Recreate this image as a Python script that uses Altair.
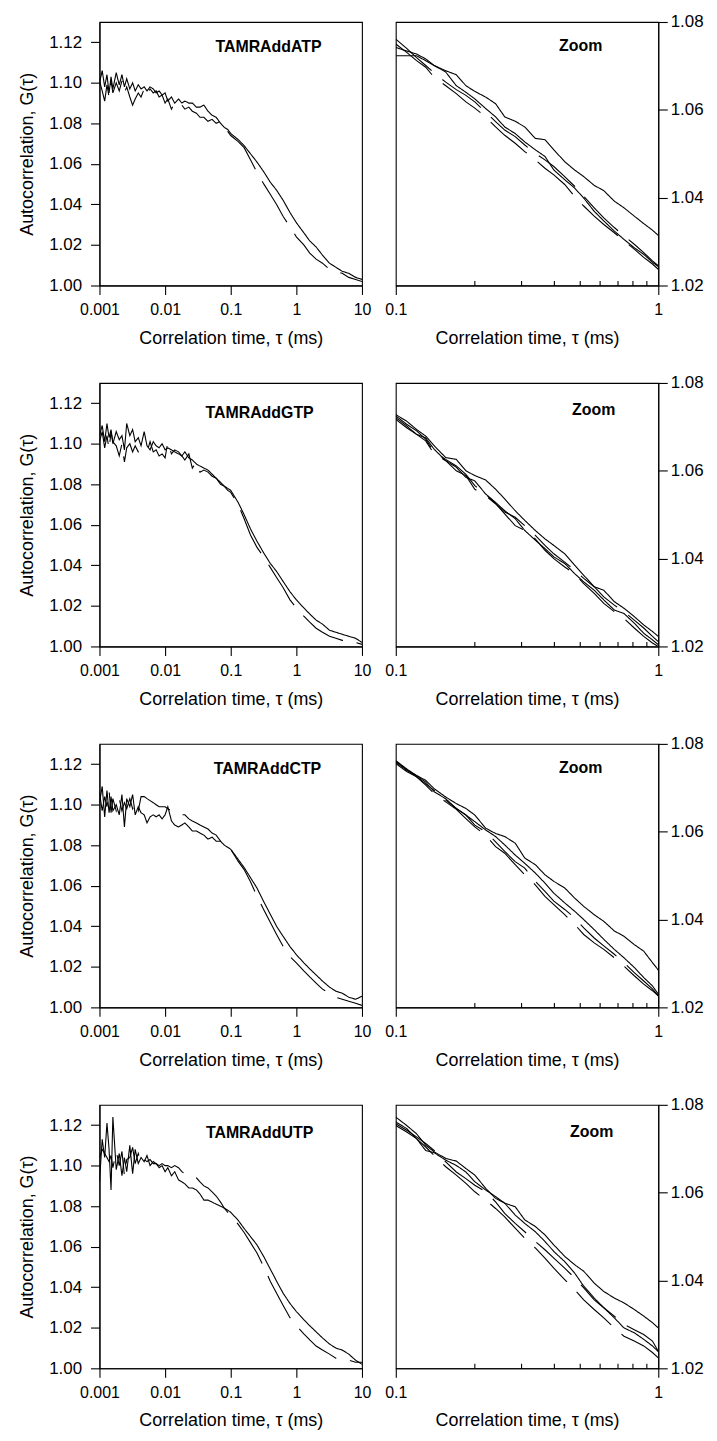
import altair as alt
import pandas as pd

# ---------------- data ----------------
TAU_LEFT = [0.0010, 0.0011, 0.0012, 0.0013, 0.0014, 0.0015, 0.0016, 0.0018,
            0.0020, 0.0022, 0.0024, 0.0026, 0.0029, 0.0032, 0.0035, 0.0039,
            0.0043, 0.0048, 0.0053, 0.0059, 0.0066, 0.0073, 0.0081, 0.0090,
            0.010, 0.011, 0.0125, 0.014, 0.016, 0.018, 0.020, 0.023,
            0.026, 0.030, 0.034, 0.039, 0.045, 0.052, 0.060, 0.070,
            0.080, 0.090, 0.10, 0.13, 0.16, 0.20, 0.25, 0.32,
            0.40, 0.50, 0.63, 0.80, 1.0, 1.3, 1.6, 2.0,
            2.5, 3.2, 4.0, 5.0, 6.3, 8.0, 10.0]

TAU_ZOOM = [0.100, 0.110, 0.120, 0.130, 0.140, 0.155, 0.170, 0.185, 0.200, 0.220,
            0.240, 0.260, 0.285, 0.310, 0.340, 0.370, 0.400, 0.440, 0.480, 0.520,
            0.570, 0.620, 0.680, 0.740, 0.810, 0.880, 0.950, 1.000]

ATP_SOLID = [1.100, 1.106, 1.098, 1.104, 1.095, 1.103, 1.097, 1.105,
             1.099, 1.104, 1.098, 1.102, 1.097, 1.100, 1.096, 1.099,
             1.097, 1.098, 1.096, 1.098, 1.097, 1.095, 1.096, 1.094,
             1.095, 1.091, 1.093, 1.090, 1.092, 1.090, 1.091, 1.090,
             1.090, 1.088, 1.088, 1.089, 1.086, 1.084, 1.083, 1.080,
             1.078, 1.077, 1.075, 1.072, 1.069, 1.065, 1.061, 1.056,
             1.051, 1.047, 1.042, 1.036, 1.031, 1.026, 1.022, 1.019,
             1.015, 1.011, 1.009, 1.007, 1.006, 1.004, 1.003]
ATP_DASHED = [1.101, 1.096, 1.091, 1.099, 1.093, 1.101, 1.095, 1.100,
              1.096, 1.101, 1.095, 1.098, 1.093, 1.089, 1.092, 1.095,
              1.093, 1.097, 1.094, 1.097, 1.095, 1.096, 1.093, 1.094,
              1.090, 1.092, 1.087, 1.090, 1.088, 1.089, 1.087, 1.088,
              1.086, 1.085, 1.083, 1.083, 1.081, 1.082, 1.080, 1.081,
              1.078, 1.076, 1.074, 1.071, 1.068, 1.062, 1.056, 1.050,
              1.045, 1.040, 1.034, 1.029, 1.024, 1.020, 1.016, 1.013,
              1.011, 1.008, 1.007, 1.006, 1.004, 1.003, 1.002]

GTP_SOLID = [1.104, 1.109, 1.101, 1.110, 1.103, 1.107, 1.100, 1.106,
             1.102, 1.104, 1.097, 1.110, 1.104, 1.107, 1.101, 1.103,
             1.099, 1.106, 1.099, 1.097, 1.101, 1.099, 1.098, 1.100,
             1.097, 1.098, 1.097, 1.096, 1.095, 1.094, 1.096, 1.093,
             1.092, 1.090, 1.089, 1.088, 1.087, 1.085, 1.083, 1.081,
             1.079, 1.078, 1.077, 1.071, 1.065, 1.058, 1.052, 1.046,
             1.041, 1.037, 1.032, 1.027, 1.023, 1.019, 1.016, 1.013,
             1.011, 1.008, 1.007, 1.006, 1.005, 1.004, 1.002]
GTP_DASHED = [1.101, 1.106, 1.098, 1.104, 1.097, 1.106, 1.101, 1.099,
              1.094, 1.100, 1.091, 1.098, 1.100, 1.096, 1.099, 1.096,
              1.096, 1.097, 1.096, 1.101, 1.096, 1.097, 1.094, 1.095,
              1.093, 1.101, 1.095, 1.097, 1.096, 1.094, 1.092, 1.095,
              1.088, 1.091, 1.086, 1.087, 1.086, 1.084, 1.083, 1.080,
              1.079, 1.077, 1.076, 1.070, 1.063, 1.055, 1.049, 1.044,
              1.039, 1.034, 1.029, 1.023, 1.019, 1.015, 1.012, 1.009,
              1.007, 1.005, 1.004, 1.003, 1.003, 1.002, 1.001]

CTP_SOLID = [1.101, 1.109, 1.094, 1.107, 1.096, 1.104, 1.097, 1.100,
             1.095, 1.105, 1.089, 1.103, 1.099, 1.105, 1.095, 1.099,
             1.096, 1.095, 1.091, 1.094, 1.095, 1.094, 1.095, 1.093,
             1.095, 1.099, 1.092, 1.090, 1.089, 1.090, 1.091, 1.089,
             1.087, 1.087, 1.086, 1.085, 1.083, 1.084, 1.082, 1.082,
             1.080, 1.079, 1.078, 1.073, 1.069, 1.064, 1.059, 1.052,
             1.046, 1.040, 1.035, 1.030, 1.026, 1.022, 1.019, 1.016,
             1.013, 1.010, 1.008, 1.007, 1.005, 1.004, 1.0055]
CTP_DASHED = [1.106, 1.097, 1.104, 1.099, 1.107, 1.096, 1.103, 1.097,
              1.103, 1.097, 1.101, 1.098, 1.103, 1.098, 1.101, 1.097,
              1.104, 1.104, 1.103, 1.102, 1.101, 1.100, 1.099, 1.099,
              1.099, 1.098, 1.097, 1.097, 1.096, 1.095, 1.095, 1.093,
              1.092, 1.091, 1.090, 1.089, 1.088, 1.086, 1.085, 1.082,
              1.080, 1.079, 1.078, 1.072, 1.068, 1.062, 1.055, 1.048,
              1.042, 1.036, 1.030, 1.025, 1.022, 1.018, 1.015, 1.012,
              1.009, 1.007, 1.005, 1.004, 1.003, 1.002, 1.001]

UTP_SOLID = [1.092, 1.113, 1.104, 1.121, 1.108, 1.088, 1.124, 1.098,
             1.106, 1.095, 1.104, 1.097, 1.110, 1.096, 1.108, 1.101,
             1.104, 1.102, 1.105, 1.100, 1.102, 1.101, 1.099, 1.100,
             1.097, 1.099, 1.095, 1.097, 1.093, 1.092, 1.091, 1.089,
             1.089, 1.088, 1.086, 1.083, 1.083, 1.082, 1.081, 1.080,
             1.079, 1.078, 1.077, 1.073, 1.069, 1.065, 1.061, 1.055,
             1.049, 1.043, 1.037, 1.032, 1.028, 1.024, 1.021, 1.018,
             1.015, 1.012, 1.010, 1.009, 1.007, 1.004, 1.002]
UTP_DASHED = [1.104, 1.108, 1.106, 1.104, 1.102, 1.105, 1.099, 1.107,
              1.100, 1.107, 1.095, 1.103, 1.104, 1.109, 1.101, 1.106,
              1.101, 1.103, 1.102, 1.103, 1.101, 1.101, 1.100, 1.101,
              1.100, 1.100, 1.099, 1.100, 1.099, 1.097, 1.096, 1.095,
              1.095, 1.094, 1.092, 1.090, 1.089, 1.087, 1.085, 1.082,
              1.079, 1.077, 1.076, 1.071, 1.067, 1.062, 1.057, 1.050,
              1.043, 1.037, 1.031, 1.025, 1.021, 1.017, 1.014, 1.011,
              1.009, 1.007, 1.005, 1.005, 1.004, 1.003, 1.003]

ATP_ZOOM_A = [1.0742, 1.0734, 1.0727, 1.0716, 1.0701, 1.0689, 1.0680, 1.0655, 1.0642, 1.0629,
              1.0614, 1.0584, 1.0574, 1.0561, 1.0535, 1.0532, 1.0509, 1.0482, 1.0463, 1.0448,
              1.0428, 1.0416, 1.0392, 1.0377, 1.0358, 1.0341, 1.0326, 1.0314]
ATP_ZOOM_B = [1.0723, 1.0723, 1.0723, 1.0712, 1.0701, 1.0686, 1.0655, 1.0640, 1.0625, 1.0603,
              1.0584, 1.0561, 1.0546, 1.0527, 1.0509, 1.0494, 1.0463, 1.0441, 1.0422, 1.0399,
              1.0369, 1.0347, 1.0324, 1.0305, 1.0286, 1.0271, 1.0253, 1.0243]
ATP_ZOOM_C = [1.0761, 1.0740, 1.0719, 1.0701, 1.0684, 1.0663, 1.0646, 1.0633, 1.0618, 1.0595,
              1.0573, 1.0554, 1.0539, 1.0520, 1.0501, 1.0486, 1.0471, 1.0448, 1.0426, 1.0403,
              1.0377, 1.0354, 1.0332, 1.0313, 1.0294, 1.0275, 1.0256, 1.0245]
ATP_ZOOM_D = [1.0750, 1.0731, 1.0712, 1.0697, 1.0674, 1.0655, 1.0637, 1.0618, 1.0604, 1.0584,
              1.0561, 1.0542, 1.0524, 1.0505, 1.0486, 1.0467, 1.0452, 1.0430, 1.0403, 1.0381,
              1.0358, 1.0339, 1.0320, 1.0302, 1.0283, 1.0264, 1.0249, 1.0237]

GTP_ZOOM_A = [1.0728, 1.0713, 1.0694, 1.0679, 1.0657, 1.0630, 1.0626, 1.0600, 1.0589, 1.0579,
              1.0558, 1.0536, 1.0509, 1.0487, 1.0464, 1.0445, 1.0430, 1.0411, 1.0385, 1.0362,
              1.0336, 1.0328, 1.0302, 1.0287, 1.0268, 1.0249, 1.0234, 1.0223]
GTP_ZOOM_B = [1.0721, 1.0702, 1.0683, 1.0675, 1.0649, 1.0623, 1.0608, 1.0585, 1.0577, 1.0547,
              1.0528, 1.0509, 1.0491, 1.0464, 1.0442, 1.0423, 1.0404, 1.0389, 1.0366, 1.0347,
              1.0328, 1.0306, 1.0283, 1.0275, 1.0253, 1.0230, 1.0215, 1.0204]
GTP_ZOOM_C = [1.0725, 1.0706, 1.0691, 1.0672, 1.0642, 1.0626, 1.0611, 1.0592, 1.0566, 1.0547,
              1.0525, 1.0506, 1.0494, 1.0475, 1.0453, 1.0430, 1.0411, 1.0392, 1.0374, 1.0355,
              1.0336, 1.0313, 1.0294, 1.0279, 1.0260, 1.0242, 1.0223, 1.0211]
GTP_ZOOM_D = [1.0717, 1.0698, 1.0683, 1.0668, 1.0638, 1.0623, 1.0600, 1.0589, 1.0558, 1.0543,
              1.0525, 1.0502, 1.0475, 1.0464, 1.0445, 1.0419, 1.0400, 1.0381, 1.0366, 1.0343,
              1.0321, 1.0298, 1.0279, 1.0264, 1.0242, 1.0223, 1.0208, 1.0200]

CTP_ZOOM_A = [1.0762, 1.0743, 1.0728, 1.0717, 1.0698, 1.0679, 1.0664, 1.0653, 1.0638, 1.0608,
              1.0596, 1.0589, 1.0574, 1.0540, 1.0525, 1.0502, 1.0487, 1.0472, 1.0449, 1.0430,
              1.0411, 1.0396, 1.0374, 1.0362, 1.0343, 1.0328, 1.0302, 1.0285]
CTP_ZOOM_B = [1.0758, 1.0740, 1.0728, 1.0713, 1.0691, 1.0675, 1.0653, 1.0638, 1.0623, 1.0604,
              1.0589, 1.0570, 1.0547, 1.0528, 1.0506, 1.0483, 1.0460, 1.0438, 1.0419, 1.0400,
              1.0377, 1.0355, 1.0332, 1.0313, 1.0291, 1.0268, 1.0249, 1.0230]
CTP_ZOOM_C = [1.0755, 1.0737, 1.0725, 1.0709, 1.0694, 1.0672, 1.0653, 1.0638, 1.0615, 1.0600,
              1.0577, 1.0555, 1.0532, 1.0517, 1.0487, 1.0464, 1.0442, 1.0423, 1.0404, 1.0381,
              1.0358, 1.0340, 1.0321, 1.0302, 1.0279, 1.0260, 1.0242, 1.0226]
CTP_ZOOM_D = [1.0760, 1.0742, 1.0725, 1.0706, 1.0687, 1.0668, 1.0651, 1.0630, 1.0611, 1.0592,
              1.0566, 1.0551, 1.0525, 1.0502, 1.0479, 1.0453, 1.0434, 1.0411, 1.0389, 1.0366,
              1.0347, 1.0332, 1.0313, 1.0294, 1.0272, 1.0253, 1.0238, 1.0226]

UTP_ZOOM_A = [1.0772, 1.0753, 1.0734, 1.0708, 1.0693, 1.0678, 1.0672, 1.0655, 1.0640, 1.0610,
              1.0587, 1.0576, 1.0568, 1.0538, 1.0523, 1.0504, 1.0481, 1.0455, 1.0436, 1.0421,
              1.0394, 1.0375, 1.0360, 1.0349, 1.0334, 1.0319, 1.0304, 1.0292]
UTP_ZOOM_B = [1.0761, 1.0746, 1.0723, 1.0696, 1.0691, 1.0674, 1.0662, 1.0647, 1.0625, 1.0606,
              1.0591, 1.0576, 1.0549, 1.0530, 1.0511, 1.0489, 1.0466, 1.0443, 1.0417, 1.0387,
              1.0360, 1.0338, 1.0315, 1.0292, 1.0281, 1.0266, 1.0251, 1.0238]
UTP_ZOOM_C = [1.0757, 1.0742, 1.0727, 1.0712, 1.0696, 1.0670, 1.0647, 1.0632, 1.0617, 1.0602,
              1.0579, 1.0553, 1.0530, 1.0511, 1.0489, 1.0470, 1.0451, 1.0428, 1.0406, 1.0383,
              1.0356, 1.0338, 1.0319, 1.0300, 1.0288, 1.0277, 1.0262, 1.0239]
UTP_ZOOM_D = [1.0753, 1.0738, 1.0723, 1.0704, 1.0685, 1.0659, 1.0640, 1.0621, 1.0602, 1.0583,
              1.0564, 1.0545, 1.0519, 1.0496, 1.0474, 1.0451, 1.0428, 1.0402, 1.0379, 1.0356,
              1.0334, 1.0315, 1.0292, 1.0273, 1.0262, 1.0251, 1.0236, 1.0224]

NAMES = ["TAMRAddATP", "TAMRAddGTP", "TAMRAddCTP", "TAMRAddUTP"]
ZOOM_NAME = "Zoom"
LEFT_SERIES = [(ATP_SOLID, ATP_DASHED), (GTP_SOLID, GTP_DASHED),
               (CTP_SOLID, CTP_DASHED), (UTP_SOLID, UTP_DASHED)]
ZOOM_SERIES = [(ATP_ZOOM_A, ATP_ZOOM_B, ATP_ZOOM_C, ATP_ZOOM_D),
               (GTP_ZOOM_A, GTP_ZOOM_B, GTP_ZOOM_C, GTP_ZOOM_D),
               (CTP_ZOOM_A, CTP_ZOOM_B, CTP_ZOOM_C, CTP_ZOOM_D),
               (UTP_ZOOM_A, UTP_ZOOM_B, UTP_ZOOM_C, UTP_ZOOM_D)]

X_LEFT_TICKS = [0.001, 0.01, 0.1, 1, 10]
Y_LEFT_TICKS = [1.00, 1.02, 1.04, 1.06, 1.08, 1.10, 1.12]
X_ZOOM_MAJOR = [0.1, 1]
X_ZOOM_MINOR = [0.2, 0.3, 0.4, 0.5, 0.6, 0.7, 0.8, 0.9]
Y_ZOOM_TICKS = [1.02, 1.04, 1.06, 1.08]

TITLE_X = "Correlation time, τ (ms)"
TITLE_Y = "Autocorrelation, G(τ)"

# ---------------- styling ----------------
FONT = "Liberation Sans"
W, H = 264, 265
LEFT_LABEL_POS = [(170, 25), (161, 30), (169, 25), (161, 28)]
ZOOM_LABEL_POS = [(186, 24), (199, 27), (186, 24), (197, 27)]
DASH_LEFT = [48, 14]
DASH_ZOOM = [30, 8]


def long_df(tau, series_list, styles):
    rows = []
    for i, (vals, st) in enumerate(zip(series_list, styles)):
        assert len(vals) == len(tau), (len(vals), len(tau))
        for t, g in zip(tau, vals):
            rows.append({"tau": t, "G": g, "series": "s%d" % i, "style": st})
    return pd.DataFrame(rows)


def dash_enc(dash):
    return alt.StrokeDash("style:N",
                          scale=alt.Scale(domain=["solid", "dashed"], range=[[1, 0], dash]),
                          legend=None)


def label_layer(text, pos):
    return alt.Chart(pd.DataFrame({"t": [text]})).mark_text(
        font=FONT, fontSize=16, fontWeight="bold", color="black"
    ).encode(text="t:N", x=alt.value(pos[0]), y=alt.value(pos[1]))


def x_major_axis(values):
    return alt.Axis(orient="bottom", values=values, format="~g", title=TITLE_X,
                    labelFlush=False, labelOverlap=False, tickSize=9,
                    labelPadding=7, titlePadding=12, labelFontSize=16)


def left_panel(i):
    solid, dashed = LEFT_SERIES[i]
    df = long_df(TAU_LEFT, [solid, dashed], ["solid", "dashed"])
    lines = alt.Chart(df).mark_line(color="black", strokeWidth=1.1, clip=True).encode(
        x=alt.X("tau:Q",
                scale=alt.Scale(type="log", domain=[0.001, 10], nice=False),
                axis=x_major_axis(X_LEFT_TICKS)),
        y=alt.Y("G:Q",
                scale=alt.Scale(domain=[1.0, 1.13], nice=False, zero=False),
                axis=alt.Axis(values=Y_LEFT_TICKS, format=".2f", title=TITLE_Y,
                              tickSize=9, labelPadding=9, titlePadding=12,
                              labelFontSize=17, labelOverlap=False)),
        detail="series:N",
        strokeDash=dash_enc(DASH_LEFT),
    )
    return alt.layer(lines, label_layer(NAMES[i], LEFT_LABEL_POS[i])).properties(width=W, height=H)


def zoom_panel(i):
    a, b, c, d = ZOOM_SERIES[i]
    df_solid = long_df(TAU_ZOOM, [a, b], ["solid", "solid"])
    df_dash = long_df(TAU_ZOOM, [c, d], ["dashed", "dashed"])
    xscale = alt.Scale(type="log", domain=[0.1, 1], nice=False)
    yscale = alt.Scale(domain=[1.02, 1.08], nice=False, zero=False)
    yaxis = alt.Axis(orient="right", values=Y_ZOOM_TICKS, format=".2f", title=None,
                     tickSize=9, labelPadding=3, labelFontSize=17, labelOverlap=False)
    solid = alt.Chart(df_solid).mark_line(color="black", strokeWidth=1.1, clip=True).encode(
        x=alt.X("tau:Q", scale=xscale, axis=x_major_axis(X_ZOOM_MAJOR)),
        y=alt.Y("G:Q", scale=yscale, axis=yaxis),
        detail="series:N",
        strokeDash=dash_enc(DASH_ZOOM),
    )
    dashed = alt.Chart(df_dash).mark_line(color="black", strokeWidth=1.1, clip=True).encode(
        x=alt.X("tau:Q", scale=xscale,
                axis=alt.Axis(orient="bottom", values=X_ZOOM_MINOR, labels=False, domain=False,
                              tickSize=5, offset=-5, title=None)),
        y=alt.Y("G:Q", scale=yscale, axis=yaxis),
        detail="series:N",
        strokeDash=dash_enc(DASH_ZOOM),
    )
    return alt.layer(solid, dashed, label_layer(ZOOM_NAME, ZOOM_LABEL_POS[i])).resolve_axis(
        x="independent").properties(width=W, height=H)


panels = []
for i in range(4):
    panels.append(left_panel(i))
    panels.append(zoom_panel(i))

chart = alt.concat(*panels, columns=2, spacing={"row": 98, "column": 34}, bounds="flush").properties(
    padding={"left": 10, "top": 0, "right": 5, "bottom": 5},
    background="white",
).configure_view(
    stroke="black", strokeWidth=1.1
).configure_axis(
    labelFont=FONT, titleFont=FONT, titleFontSize=18, titleFontWeight="normal",
    labelColor="black", titleColor="black", domainColor="black", tickColor="black",
    domainWidth=1.1, tickWidth=1.1, grid=False,
)

chart.save("out.html", embed_options={"renderer": "svg", "actions": False})
